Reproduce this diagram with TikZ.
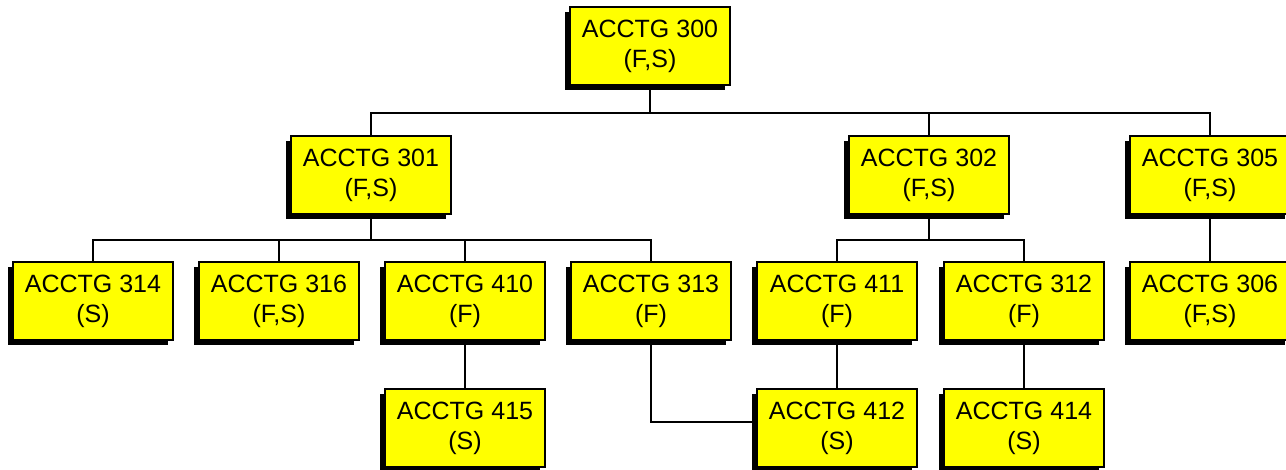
\documentclass[tikz,border=0pt]{standalone}
\usepackage{fontspec}
\setmainfont{Liberation Sans}
\usetikzlibrary{shadows}
\definecolor{boxyellow}{RGB}{255,255,0}

\begin{document}
\begin{tikzpicture}[x=1pt, y=1pt,
  course/.style={draw=black, line width=2.8pt, fill=boxyellow, minimum width=160pt, minimum height=78pt, inner sep=0pt, align=center, font=\fontsize{25}{30}\selectfont, drop shadow={shadow xshift=-5pt, shadow yshift=-5pt, fill=black, opacity=1}},
  link/.style={black, line width=1.3pt}]
  \useasboundingbox (0,0) rectangle (1286,470);
  % bus levels
  \coordinate (bus0) at (0,357);
  \coordinate (bus1) at (0,230);
  % courses
  \node[course] (a300) at (650,424) {ACCTG 300\\(F,S)};
  \node[course] (a301) at (371,295) {ACCTG 301\\(F,S)};
  \node[course] (a302) at (929,295) {ACCTG 302\\(F,S)};
  \node[course] (a305) at (1210,295) {ACCTG 305\\(F,S)};
  \node[course] (a314) at (93,169) {ACCTG 314\\(S)};
  \node[course] (a316) at (279,169) {ACCTG 316\\(F,S)};
  \node[course] (a410) at (465,169) {ACCTG 410\\(F)};
  \node[course] (a313) at (651,169) {ACCTG 313\\(F)};
  \node[course] (a411) at (837,169) {ACCTG 411\\(F)};
  \node[course] (a312) at (1024,169) {ACCTG 312\\(F)};
  \node[course] (a306) at (1210,169) {ACCTG 306\\(F,S)};
  \node[course] (a415) at (465,42) {ACCTG 415\\(S)};
  \node[course] (a412) at (837,42) {ACCTG 412\\(S)};
  \node[course] (a414) at (1024,42) {ACCTG 414\\(S)};
  % links
  \draw[link] (a300.south) -- (a300.south |- bus0) -| (a301.north);
  \draw[link] (a300.south) -- (a300.south |- bus0) -| (a302.north);
  \draw[link] (a300.south) -- (a300.south |- bus0) -| (a305.north);
  \draw[link] (a301.south) -- (a301.south |- bus1) -| (a314.north);
  \draw[link] (a301.south) -- (a301.south |- bus1) -| (a316.north);
  \draw[link] (a301.south) -- (a301.south |- bus1) -| (a410.north);
  \draw[link] (a301.south) -- (a301.south |- bus1) -| (a313.north);
  \draw[link] (a302.south) -- (a302.south |- bus1) -| (a411.north);
  \draw[link] (a302.south) -- (a302.south |- bus1) -| (a312.north);
  \draw[link] (a305) -- (a306);
  \draw[link] (a410) -- (a415);
  \draw[link] (a411) -- (a412);
  \draw[link] (a312) -- (a414);
  \draw[link] (a313.south) |- ([yshift=6pt]a412.west);
\end{tikzpicture}
\end{document}
